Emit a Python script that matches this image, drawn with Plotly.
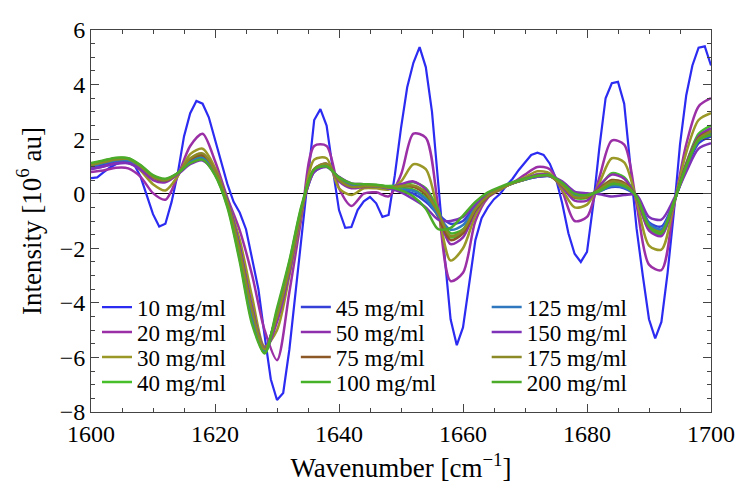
import plotly.graph_objects as go

wn_fine = list(range(1600, 1701, 1))
wn_coarse = list(range(1600, 1701, 2))

labels = ["10 mg/ml", "20 mg/ml", "30 mg/ml", "40 mg/ml",
          "45 mg/ml", "50 mg/ml", "75 mg/ml", "100 mg/ml",
          "125 mg/ml", "150 mg/ml", "175 mg/ml", "200 mg/ml"]

colors = ["#2b2bf2", "#9a2fa6", "#9a9826", "#46bf2a",
          "#3440d8", "#8e2fae", "#8c5826", "#45b22a",
          "#2f78c0", "#7e32b8", "#8c8a26", "#4cac2a"]

s10 = [0.57, 0.6, 0.78, 0.95, 1.08, 1.16, 1.14, 1.05, 0.62, -0.1,
       -0.75, -1.2, -1.1, -0.3, 0.75, 2.1, 2.95, 3.4, 3.3, 2.8,
       1.95, 1.1, 0.35, -0.3, -0.7, -1.3, -2.45, -3.5, -5.2, -6.8,
       -7.56, -7.3, -5.7, -3.6, -1.3, 0.8, 2.7, 3.1, 2.5, 0.9,
       -0.6, -1.25, -1.22, -0.6, -0.28, -0.12, -0.35, -0.85, -0.78, 0.67,
       2.4, 3.9, 4.8, 5.37, 4.64, 3.0, 0.31, -2.2, -4.6, -5.55,
       -4.9, -3.2, -1.7, -0.9, -0.5, -0.2, 0.0, 0.3, 0.55, 0.87,
       1.15, 1.42, 1.5, 1.42, 1.1, 0.55, -0.35, -1.45, -2.2, -2.5,
       -2.13, -0.4, 1.7, 3.5, 4.05, 4.1, 3.3, 1.1, -1.28, -3.0,
       -4.6, -5.3, -4.7, -2.9, -0.7, 1.8, 3.6, 4.7, 5.35, 5.4,
       4.7]

s20 = [0.80, 0.85, 0.95, 0.93, 0.62, 0.02, -0.22, 0.65, 1.75, 2.2,
       1.2, -0.15, -1.35, -3.0, -5.0, -6.1, -3.6, -0.8, 1.75, 1.75,
       0.2, -0.45, 0.0, 0.05, -0.1, 0.7, 2.2, 2.05, -0.5, -3.2,
       -2.9, -1.0, -0.15, 0.15, 0.4, 0.7, 0.98, 0.9, 0.1, -1.0,
       -0.85, 0.6, 1.95, 1.8, -0.4, -2.6, -2.8, -0.5, 1.8, 3.2,
       3.5]
s30 = [1.0, 1.1, 1.2, 1.22, 0.85, 0.35, 0.12, 0.65, 1.45, 1.65,
       0.95, -0.25, -1.7, -3.8, -5.6, -5.0, -3.0, -0.7, 1.25, 1.3,
       0.2, -0.05, 0.2, 0.2, 0.15, 0.45, 1.08, 0.9, -0.7, -2.45,
       -2.0, -0.8, -0.1, 0.15, 0.4, 0.6, 0.82, 0.75, 0.15, -0.5,
       -0.4, 0.4, 1.3, 1.15, -0.25, -1.9, -2.05, -0.4, 1.5, 2.7,
       2.95]
s40 = [1.1, 1.2, 1.3, 1.28, 1.0, 0.6, 0.48, 0.75, 1.2, 1.35,
       0.75, -0.4, -2.3, -4.6, -5.85, -4.5, -2.6, -0.5, 0.9, 1.05,
       0.55, 0.3, 0.3, 0.3, 0.28, 0.32, 0.42, 0.2, -0.6, -1.6,
       -1.4, -0.6, -0.05, 0.2, 0.4, 0.55, 0.7, 0.68, 0.3, -0.15,
       -0.15, 0.25, 0.75, 0.6, -0.15, -1.3, -1.5, -0.35, 1.1, 2.2,
       2.5]
s45 = [0.95, 1.05, 1.18, 1.2, 0.95, 0.62, 0.52, 0.75, 1.15, 1.28,
       0.8, -0.25, -2.0, -4.3, -5.7, -4.4, -2.7, -0.55, 0.8, 1.0,
       0.6, 0.35, 0.3, 0.28, 0.22, 0.15, 0.0, -0.3, -0.75, -1.1,
       -1.0, -0.45, -0.05, 0.2, 0.38, 0.52, 0.62, 0.65, 0.38, 0.0,
       -0.05, 0.1, 0.25, 0.2, -0.1, -1.05, -1.2, -0.3, 0.9, 1.85,
       2.1]
s50 = [0.92, 1.0, 1.12, 1.12, 0.88, 0.5, 0.42, 0.72, 1.25, 1.45,
       0.85, -0.3, -2.0, -4.2, -5.75, -4.7, -2.9, -0.6, 0.9, 1.1,
       0.45, 0.2, 0.25, 0.28, 0.2, 0.35, 0.45, 0.15, -0.8, -1.85,
       -1.6, -0.65, -0.1, 0.18, 0.4, 0.55, 0.7, 0.68, 0.25, -0.25,
       -0.25, 0.3, 0.7, 0.55, -0.15, -1.35, -1.55, -0.35, 1.1, 2.1,
       2.4]
s75 = [1.02, 1.15, 1.25, 1.25, 0.98, 0.6, 0.48, 0.75, 1.25, 1.4,
       0.8, -0.35, -2.2, -4.4, -5.75, -4.4, -2.7, -0.5, 0.9, 1.08,
       0.55, 0.28, 0.28, 0.28, 0.22, 0.25, 0.25, -0.05, -0.85, -1.7,
       -1.45, -0.6, -0.1, 0.18, 0.38, 0.52, 0.66, 0.65, 0.3, -0.12,
       -0.12, 0.18, 0.5, 0.4, -0.12, -1.2, -1.4, -0.3, 1.05, 2.05,
       2.3]
s100 = [1.08, 1.2, 1.3, 1.3, 1.02, 0.65, 0.52, 0.75, 1.15, 1.28,
        0.7, -0.45, -2.4, -4.7, -5.8, -4.3, -2.5, -0.45, 0.85, 1.02,
        0.6, 0.35, 0.32, 0.32, 0.25, 0.2, 0.15, -0.15, -0.75, -1.45,
        -1.3, -0.55, -0.05, 0.2, 0.38, 0.52, 0.64, 0.66, 0.35, -0.05,
        -0.08, 0.12, 0.38, 0.3, -0.1, -1.15, -1.35, -0.3, 1.0, 2.0,
        2.25]
s125 = [1.0, 1.12, 1.22, 1.22, 0.98, 0.62, 0.5, 0.74, 1.15, 1.3,
        0.75, -0.35, -2.2, -4.5, -5.75, -4.4, -2.65, -0.5, 0.85, 1.02,
        0.58, 0.32, 0.3, 0.28, 0.2, 0.15, 0.1, -0.2, -0.8, -1.32,
        -1.15, -0.5, -0.05, 0.2, 0.38, 0.52, 0.62, 0.64, 0.35, -0.05,
        -0.05, 0.08, 0.28, 0.22, -0.1, -1.1, -1.3, -0.3, 0.95, 1.95,
        2.2]
s150 = [0.9, 1.0, 1.1, 1.12, 0.92, 0.62, 0.52, 0.72, 1.08, 1.22,
        0.75, -0.3, -2.0, -4.2, -5.65, -4.5, -2.8, -0.55, 0.8, 0.98,
        0.62, 0.38, 0.35, 0.3, 0.2, 0.05, -0.2, -0.5, -0.95, -1.0,
        -0.85, -0.4, 0.0, 0.22, 0.4, 0.55, 0.62, 0.65, 0.45, 0.08,
        0.02, -0.02, -0.1, -0.05, -0.05, -0.85, -0.95, -0.2, 0.8, 1.65,
        1.85]
s175 = [1.05, 1.15, 1.25, 1.27, 1.0, 0.62, 0.5, 0.75, 1.3, 1.48,
        0.85, -0.3, -2.1, -4.3, -5.7, -4.5, -2.75, -0.55, 0.9, 1.1,
        0.5, 0.25, 0.27, 0.28, 0.22, 0.28, 0.3, 0.05, -0.7, -1.55,
        -1.35, -0.55, -0.08, 0.18, 0.38, 0.53, 0.66, 0.66, 0.3, -0.12,
        -0.1, 0.15, 0.45, 0.35, -0.12, -1.2, -1.4, -0.32, 1.0, 2.0,
        2.28]
s200 = [1.12, 1.22, 1.32, 1.3, 1.05, 0.68, 0.55, 0.76, 1.12, 1.25,
        0.68, -0.5, -2.5, -4.8, -5.85, -4.2, -2.45, -0.4, 0.88, 1.0,
        0.6, 0.38, 0.35, 0.33, 0.25, 0.12, -0.1, -0.55, -1.3, -1.25,
        -0.8, -0.3, 0.05, 0.25, 0.42, 0.55, 0.65, 0.68, 0.4, 0.0,
        -0.05, 0.1, 0.35, 0.28, -0.1, -1.2, -1.45, -0.32, 1.0, 1.95,
        2.15]

series = [s10, s20, s30, s40, s45, s50, s75, s100, s125, s150, s175, s200]

FONT = "Liberation Serif, Liberation Sans, Arimo, Arial, sans-serif"
W, H = 743, 488
ML, MR, MT, MB = 91, 31.5, 29.5, 76
plot_w = W - ML - MR
plot_h = H - MT - MB

col_left_px = [97, 296, 487]
row_center_px = [307, 332, 357, 382]

fig = go.Figure()
for i, (lab, col, ys) in enumerate(zip(labels, colors, series)):
    xs = wn_fine if len(ys) == len(wn_fine) else wn_coarse
    leg = "legend" if i == 0 else f"legend{i+1}"
    fig.add_trace(go.Scatter(
        x=xs, y=ys, mode="lines", name=lab,
        line=dict(color=col, width=2.2 if i == 0 else 2.5,
                  shape="linear" if i == 0 else "spline", smoothing=0.8),
        legend=leg, showlegend=True,
    ))

layout_legends = {}
for i in range(len(labels)):
    c, r = divmod(i, 4)
    key = "legend" if i == 0 else f"legend{i+1}"
    layout_legends[key] = dict(
        x=(col_left_px[c] - ML) / plot_w,
        y=(H - MB - row_center_px[r]) / plot_h,
        xanchor="left", yanchor="middle",
        bgcolor="rgba(0,0,0,0)", borderwidth=0,
        font=dict(family=FONT, size=23, color="black"),
        itemwidth=30, tracegroupgap=0,
    )

axis_common = dict(
    showline=True, linecolor="#444", linewidth=1, mirror="allticks",
    ticks="inside", tickcolor="#444", ticklen=8, tickwidth=1,
    showgrid=False, automargin=False,
    tickfont=dict(family=FONT, size=24, color="black"),
)

fig.update_layout(
    width=W, height=H,
    margin=dict(l=ML, r=MR, t=MT, b=MB, pad=0),
    paper_bgcolor="white", plot_bgcolor="white",
    font=dict(family=FONT, color="black"),
    xaxis=dict(range=[1600, 1700], dtick=20, tick0=1600,
               minor=dict(dtick=5, ticks="inside", ticklen=4, tickcolor="#444"),
               title=dict(text="Wavenumber [cm<sup>−1</sup>]",
                          font=dict(family=FONT, size=27), standoff=12),
               zeroline=False, **axis_common),
    yaxis=dict(range=[-8, 6], dtick=2, tick0=0,
               minor=dict(dtick=0.5, ticks="inside", ticklen=4, tickcolor="#444"),
               title=dict(text="Intensity [10<sup>6</sup> au]",
                          font=dict(family=FONT, size=27), standoff=10),
               zeroline=True, zerolinecolor="black", zerolinewidth=1.2,
               **axis_common),
    **layout_legends,
)

fig.write_html("out.html")
